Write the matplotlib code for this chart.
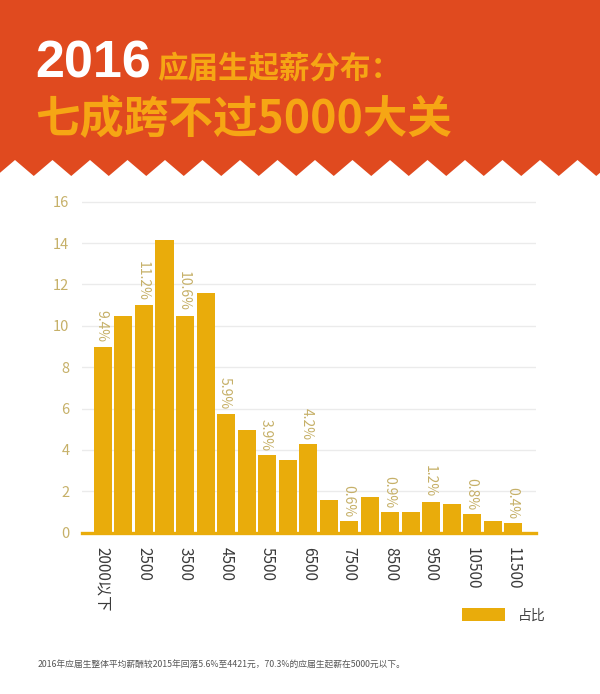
import matplotlib
matplotlib.use("Agg")
import matplotlib.pyplot as plt
from matplotlib.patches import Polygon

plt.rcParams['font.family'] = ['Noto Sans CJK SC', 'DejaVu Sans']

# ---- data ----
categories = ['2000以下', '', '2500', '', '3500', '', '4500', '', '5500', '',
              '6500', '', '7500', '', '8500', '', '9500', '', '10500', '', '11500']
values = [9.0, 10.5, 11.0, 14.15, 10.5, 11.6, 5.75, 4.95, 3.75, 3.5,
          4.3, 1.6, 0.55, 1.75, 1.0, 1.0, 1.5, 1.4, 0.9, 0.55, 0.45]
pct_labels = ['9.4%', '', '11.2%', '', '10.6%', '', '5.9%', '', '3.9%', '',
              '4.2%', '', '0.6%', '', '0.9%', '', '1.2%', '', '0.8%', '', '0.4%']
yticks = [0, 2, 4, 6, 8, 10, 12, 14, 16]
series_name = '占比'
title_year = '2016'
title_rest = '应届生起薪分布：'
title_line2 = '七成跨不过5000大关'
footnote = '2016年应届生整体平均薪酬较2015年回落5.6%至4421元，70.3%的应届生起薪在5000元以下。'

# ---- style ----
W, H = 600, 694
RED = '#e04a1f'
YEL = '#f6a614'
BAR = '#e9ac0b'
KHAKI = '#c6b068'

fig = plt.figure(figsize=(W / 100, H / 100), dpi=100)
fig.patch.set_facecolor('white')

# header background with zigzag bottom (figure pixel coords)
bg = fig.add_axes([0, 0, 1, 1], zorder=0)
bg.set_xlim(0, W)
bg.set_ylim(H, 0)
bg.axis('off')
pitch = 37.5
xp = 15.0
peaks = []
while xp - pitch < W + pitch:
    peaks.append(xp)
    xp += pitch
edge = []
for p in peaks:
    edge.append((p - pitch / 2, 176))
    edge.append((p, 160))
edge.append((peaks[-1] + pitch / 2, 176))
poly = [(0, 0), (W + 40, 0)] + edge[::-1] + [(-40, 176)]
bg.add_patch(Polygon(poly, closed=True, facecolor=RED, edgecolor='none'))

# titles
fig.text(35 / W, 1 - 77 / H, title_year, color='white', fontsize=37.5,
         fontweight='bold', ha='left', va='baseline',
         family=['Liberation Sans', 'DejaVu Sans'])
fig.text(157 / W, 1 - 78 / H, title_rest, color=YEL, fontsize=22,
         fontweight='bold', ha='left', va='baseline')
fig.text(35 / W, 1 - 133 / H, title_line2, color=YEL, fontsize=32,
         fontweight='bold', ha='left', va='baseline')

# ---- chart ----
ax = fig.add_axes([82 / W, 1 - 532.7 / H, (536 - 82) / W, (532.7 - 197.6) / H], zorder=2)
ax.set_facecolor('none')
xs = list(range(len(values)))
bars = ax.bar(xs, values, width=0.88, color=BAR, zorder=3, label=series_name)
ax.set_xlim(-1.02, 21.1)
ax.set_ylim(0, 16.2)
ax.set_yticks(yticks)
ax.set_yticklabels([str(v) for v in yticks])
ax.tick_params(axis='y', length=0, pad=9, labelsize=10.5, labelcolor=KHAKI)
ax.set_xticks(xs)
ax.set_xticklabels(categories, rotation=270, fontsize=11, color='#3a3a3a')
ax.tick_params(axis='x', length=0, pad=10)
for lbl in ax.get_xticklabels():
    lbl.set_va('top')
    lbl.set_ha('center')
ax.yaxis.grid(True, color='#ebebeb', linewidth=1, zorder=0)
ax.set_axisbelow(True)
for s in ['top', 'right', 'left']:
    ax.spines[s].set_visible(False)
ax.spines['bottom'].set_color(BAR)
ax.spines['bottom'].set_linewidth(2.4)
ax.spines['bottom'].set_zorder(4)

for xi, v, t in zip(xs, values, pct_labels):
    if t:
        ax.annotate(t, (xi, v), xytext=(-1, 3), textcoords='offset points',
                    rotation=270, ha='center', va='bottom', fontsize=10,
                    color=KHAKI, zorder=5)

# legend
fig.legend(handles=[bars], labels=[series_name], loc='center left',
           bbox_to_anchor=(462 / W, 1 - 615 / H), frameon=False,
           borderpad=0, borderaxespad=0, handlelength=3.1, handleheight=1.15,
           handletextpad=0.95, fontsize=10, labelcolor='#444444')

# footnote
fig.text(38 / W, 1 - 665 / H, footnote, fontsize=6.3, color='#555555',
         ha='left', va='center')

fig.savefig('out.png', dpi=100, facecolor='white')
